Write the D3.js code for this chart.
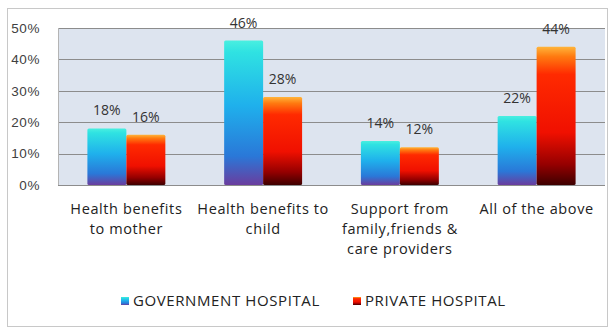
<!DOCTYPE html>
<html>
<head>
<meta charset="utf-8">
<script src="https://cdnjs.cloudflare.com/ajax/libs/d3/7.8.5/d3.min.js"></script>
<style>
  body { margin: 0; background: #fff; }
  svg { display: block; font-family: "Open Sans", "Liberation Sans", sans-serif; }
</style>
</head>
<body>
<svg id="chart"></svg>
<script>
var categories = [
  ["Health benefits", "to mother"],
  ["Health benefits to", "child"],
  ["Support from", "family,friends &", "care providers"],
  ["All of the above"]
];
var series = ["GOVERNMENT HOSPITAL", "PRIVATE HOSPITAL"];
var govValues = [18, 46, 14, 22];
var privValues = [16, 28, 12, 44];
var yTicks = [0, 10, 20, 30, 40, 50];

var width = 609, height = 328;
var margins = { top: 28, bottom: 143, left: 58, right: 4 };

var svg = d3.select("#chart")
  .attr("width", width)
  .attr("height", height);

// gradients
var defs = svg.append("defs");
var govGrad = defs.append("linearGradient").attr("id", "gov")
  .attr("x1", 0).attr("y1", 0).attr("x2", 0).attr("y2", 1);
[["0%", "#49efe0"], ["8%", "#2fe2e2"], ["45%", "#1fb0ec"], ["80%", "#2a78d8"], ["100%", "#6a3d9e"]]
  .forEach(function(s){ govGrad.append("stop").attr("offset", s[0]).attr("stop-color", s[1]); });
var privGrad = defs.append("linearGradient").attr("id", "priv")
  .attr("x1", 0).attr("y1", 0).attr("x2", 0).attr("y2", 1);
[["0%", "#ffb43a"], ["7%", "#ff7a10"], ["20%", "#ff2a00"], ["62%", "#f01000"], ["85%", "#960000"], ["100%", "#3e0000"]]
  .forEach(function(s){ privGrad.append("stop").attr("offset", s[0]).attr("stop-color", s[1]); });

// outer border
svg.append("rect")
  .attr("x", 7.5).attr("y", 8.5)
  .attr("width", 600).attr("height", 318)
  .attr("fill", "#fff")
  .attr("stroke", "#c8c8c8");

var xScale = d3.scaleBand()
  .domain(d3.range(categories.length))
  .range([margins.left, width - margins.right])
  .paddingInner(0.43)
  .paddingOuter(0.215);

var yScale = d3.scaleLinear()
  .domain([0, 50])
  .range([height - margins.bottom, margins.top]);

var sub = d3.scaleBand()
  .domain([0, 1])
  .range([0, xScale.bandwidth()]);

// plot background
svg.append("rect")
  .attr("x", margins.left)
  .attr("y", yScale(50))
  .attr("width", width - margins.right - margins.left)
  .attr("height", yScale(0) - yScale(50))
  .attr("fill", "#dde4ef");

// grid lines
svg.append("g")
  .selectAll("line")
  .data(yTicks)
  .enter()
  .append("line")
  .attr("x1", margins.left)
  .attr("x2", width - margins.right)
  .attr("y1", function(d){ return Math.round(yScale(d)) + 0.5; })
  .attr("y2", function(d){ return Math.round(yScale(d)) + 0.5; })
  .attr("stroke", "#8c8c8c");

svg.append("line")
  .attr("x1", margins.left + 0.5).attr("x2", margins.left + 0.5)
  .attr("y1", yScale(50)).attr("y2", yScale(0))
  .attr("stroke", "#b4b4b4");

// y axis
var yAxis = d3.axisLeft(yScale)
  .tickValues(yTicks)
  .tickSize(0)
  .tickPadding(0)
  .tickFormat(function(d){ return d + "%"; });

var yG = svg.append("g")
  .attr("transform", "translate(" + 40 + ",0)")
  .call(yAxis);
yG.select(".domain").remove();
yG.selectAll("text")
  .attr("fill", "#404040")
  .style("font-size", "13.5px")
  .style("letter-spacing", "0.6px");

// bars
var groups = svg.append("g")
  .selectAll("g")
  .data(categories)
  .enter()
  .append("g")
  .attr("transform", function(d, i){ return "translate(" + xScale(i) + ",0)"; });

var allValues = [govValues, privValues];
var fills = ["url(#gov)", "url(#priv)"];

groups.each(function(d, i) {
  var g = d3.select(this);
  allValues.forEach(function(vals, s) {
    g.append("rect")
      .attr("x", sub(s))
      .attr("y", yScale(vals[i]))
      .attr("width", sub.bandwidth())
      .attr("height", yScale(0) - yScale(vals[i]))
      .attr("rx", 1.5)
      .attr("fill", fills[s]);
    g.append("text")
      .attr("x", sub(s) + sub.bandwidth() / 2)
      .attr("y", yScale(vals[i]) - 13)
      .attr("text-anchor", "middle")
      .attr("fill", "#333")
      .style("font-size", "14px")
      .text(vals[i] + "%");
  });
});

// category labels
svg.append("g")
  .selectAll("text")
  .data(categories)
  .enter()
  .append("text")
  .attr("text-anchor", "middle")
  .attr("fill", "#222")
  .style("font-size", "14.5px")
  .style("letter-spacing", "0.6px")
  .each(function(d, i) {
    var t = d3.select(this);
    d.forEach(function(line, k) {
      t.append("tspan")
        .attr("x", xScale(i) + xScale.bandwidth() / 2)
        .attr("y", 214 + k * 20)
        .text(line);
    });
  });

// legend
var legendX = [121, 353];
var legend = svg.append("g")
  .selectAll("g")
  .data(series)
  .enter()
  .append("g")
  .attr("transform", function(d, i){ return "translate(" + legendX[i] + ",297)"; });

legend.append("rect")
  .attr("width", 8).attr("height", 8)
  .attr("fill", function(d, i){ return fills[i]; });

legend.append("text")
  .attr("x", 12)
  .attr("y", 9)
  .attr("fill", "#222")
  .style("font-size", "15px")
  .style("letter-spacing", "0.6px")
  .text(function(d){ return d; });
</script>
</body>
</html>
